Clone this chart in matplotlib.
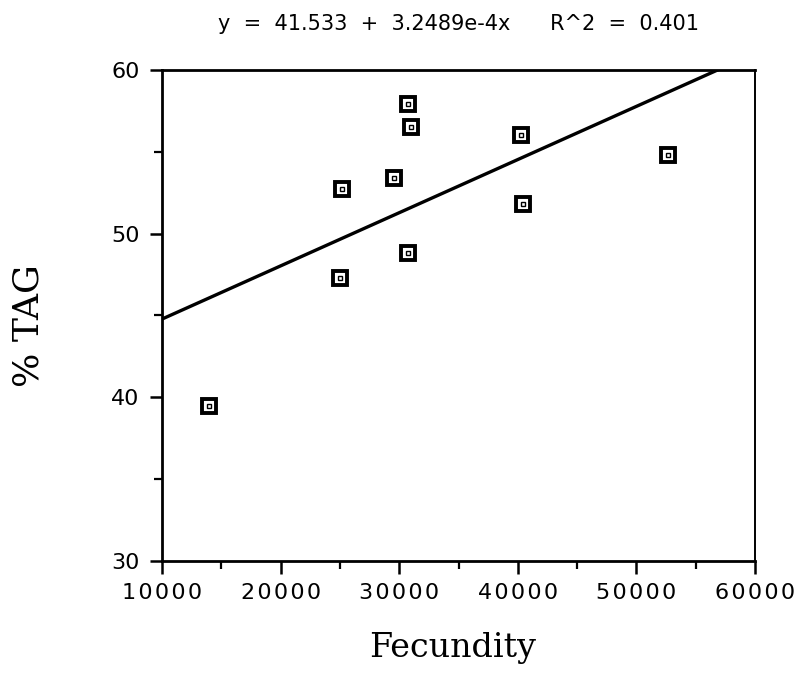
import numpy as np
import matplotlib.pyplot as plt
from matplotlib.ticker import MultipleLocator, FuncFormatter

# data
fecundity = [14000, 25000, 25200, 29600, 30700, 31000, 30700, 40300, 40400, 52700]
pct_tag = [39.5, 47.3, 52.7, 53.4, 57.9, 56.5, 48.8, 56.0, 51.8, 54.8]

# regression from the printed header
intercept = 41.533
slope = 3.2489e-4
title = "y  =  41.533  +  3.2489e-4x      R^2  =  0.401"

fig = plt.figure(figsize=(7.95, 6.75), dpi=100)
ax = fig.add_axes([0.2038, 0.1689, 0.7459, 0.7274])

ax.set_xlim(10000, 60000)
ax.set_ylim(30, 60)

# fitted line, clipped at the top of the frame
xs = np.array([10000, 60000])
ax.plot(xs, intercept + slope * xs, color="black", lw=2.4, solid_capstyle="butt")

# boxed markers with a tiny square inside
ax.plot(fecundity, pct_tag, ls="none", marker="s", ms=9.5, mfc="white",
        mec="black", mew=2.8, zorder=3)
ax.plot(fecundity, pct_tag, ls="none", marker="s", ms=2.4, mfc="white",
        mec="black", mew=1.0, zorder=4)

for s in ax.spines.values():
    s.set_linewidth(2.0)
ax.spines["right"].set_linewidth(1.4)

# the old plotter spaced its digits out a little
spaced = lambda v, pos: "\u200a".join(str(int(v)))
ax.xaxis.set_major_locator(MultipleLocator(10000))
ax.xaxis.set_minor_locator(MultipleLocator(5000))
ax.xaxis.set_major_formatter(FuncFormatter(spaced))
ax.yaxis.set_major_locator(MultipleLocator(10))
ax.yaxis.set_minor_locator(MultipleLocator(5))
ax.tick_params(which="major", direction="out", length=9, width=1.8,
               labelsize=16)
ax.tick_params(which="minor", direction="out", length=5.5, width=1.6)
ax.tick_params(axis="x", which="major", pad=7)
ax.tick_params(axis="y", which="major", pad=7)
for lab in ax.get_xticklabels() + ax.get_yticklabels():
    lab.set_family("DejaVu Sans")

ax.set_xlabel("Fecundity", family="DejaVu Serif", fontsize=24)
ax.xaxis.label.set_va("baseline")
ax.xaxis.set_label_coords(0.49, -0.195)
ax.set_ylabel("% TAG", family="DejaVu Serif", fontsize=26)
ax.yaxis.label.set_va("center")
ax.yaxis.set_label_coords(-0.226, 0.48)
ax.set_title(title, family="DejaVu Sans", fontsize=15, pad=29)

fig.savefig("out.png", dpi=100)
